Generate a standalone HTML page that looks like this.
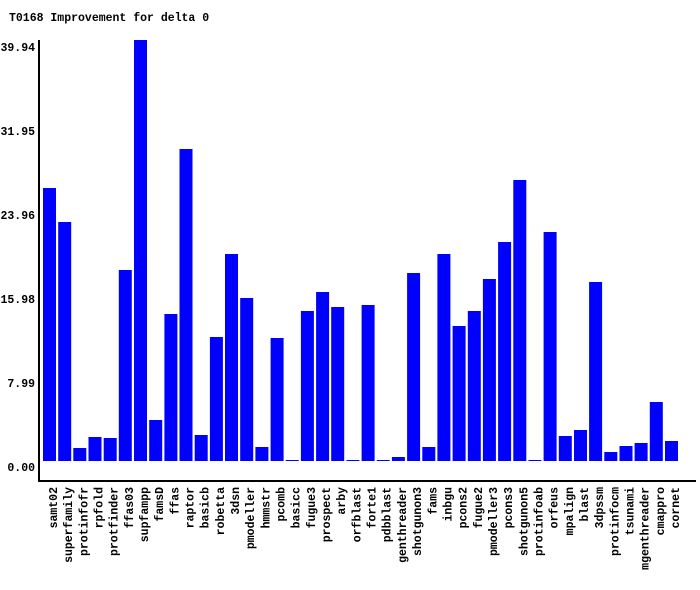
<!DOCTYPE html><html><head><style>body{margin:0;background:#fff}svg{display:block}text{font-family:"Liberation Mono","DejaVu Sans Mono",monospace;font-size:11.5px;font-weight:bold;fill:#000}</style></head><body>
<svg width="700" height="590" xmlns="http://www.w3.org/2000/svg">
<rect width="700" height="590" fill="#fff"/>
<text x="9" y="21">T0168 Improvement for delta 0</text>
<g text-anchor="end">
<text x="35" y="51">39.94</text><text x="35" y="135">31.95</text><text x="35" y="219">23.96</text><text x="35" y="303">15.98</text><text x="35" y="387">7.99</text><text x="35" y="471">0.00</text>
</g>
<rect x="38" y="40" width="2" height="442" fill="#000"/>
<rect x="38" y="480" width="658" height="2" fill="#000"/>
<g id="bars" fill="#00f"></g>
<g id="labels" text-anchor="end"></g>
<script>
var n=["samt02","superfamily","protinfofr","rpfold","protfinder","ffas03","supfampp","famsD","ffas","raptor","basicb","robetta","3dsn","pmodeller","hmmstr","pcomb","basicc","fugue3","prospect","arby","orfblast","forte1","pdbblast","genthreader","shotgunon3","fams","inbgu","pcons2","fugue2","pmodeller3","pcons3","shotgunon5","protinfoab","orfeus","mpalign","blast","3dpssm","protinfocm","tsunami","mgenthreader","cmappro","cornet"];
var t=[188,222,448,437,438,270,40,420,314,149,435,337,254,298,447,338,460,311,292,307,460,305,460,457,273,447,254,326,311,279,242,180,460,232,436,430,282,452,446,443,402,441];
var ns="http://www.w3.org/2000/svg",b=document.getElementById("bars"),l=document.getElementById("labels");
for(var i=0;i<42;i++){var x=43+i*15.17;var r=document.createElementNS(ns,"rect");r.setAttribute("x",x.toFixed(1));r.setAttribute("y",t[i]);r.setAttribute("width",13);r.setAttribute("height",461-t[i]);b.appendChild(r);
var tx=document.createElementNS(ns,"text");var cx=x+14;tx.setAttribute("transform","translate("+cx.toFixed(1)+",487) rotate(-90)");tx.textContent=n[i];l.appendChild(tx);}
</script>
</svg></body></html>
